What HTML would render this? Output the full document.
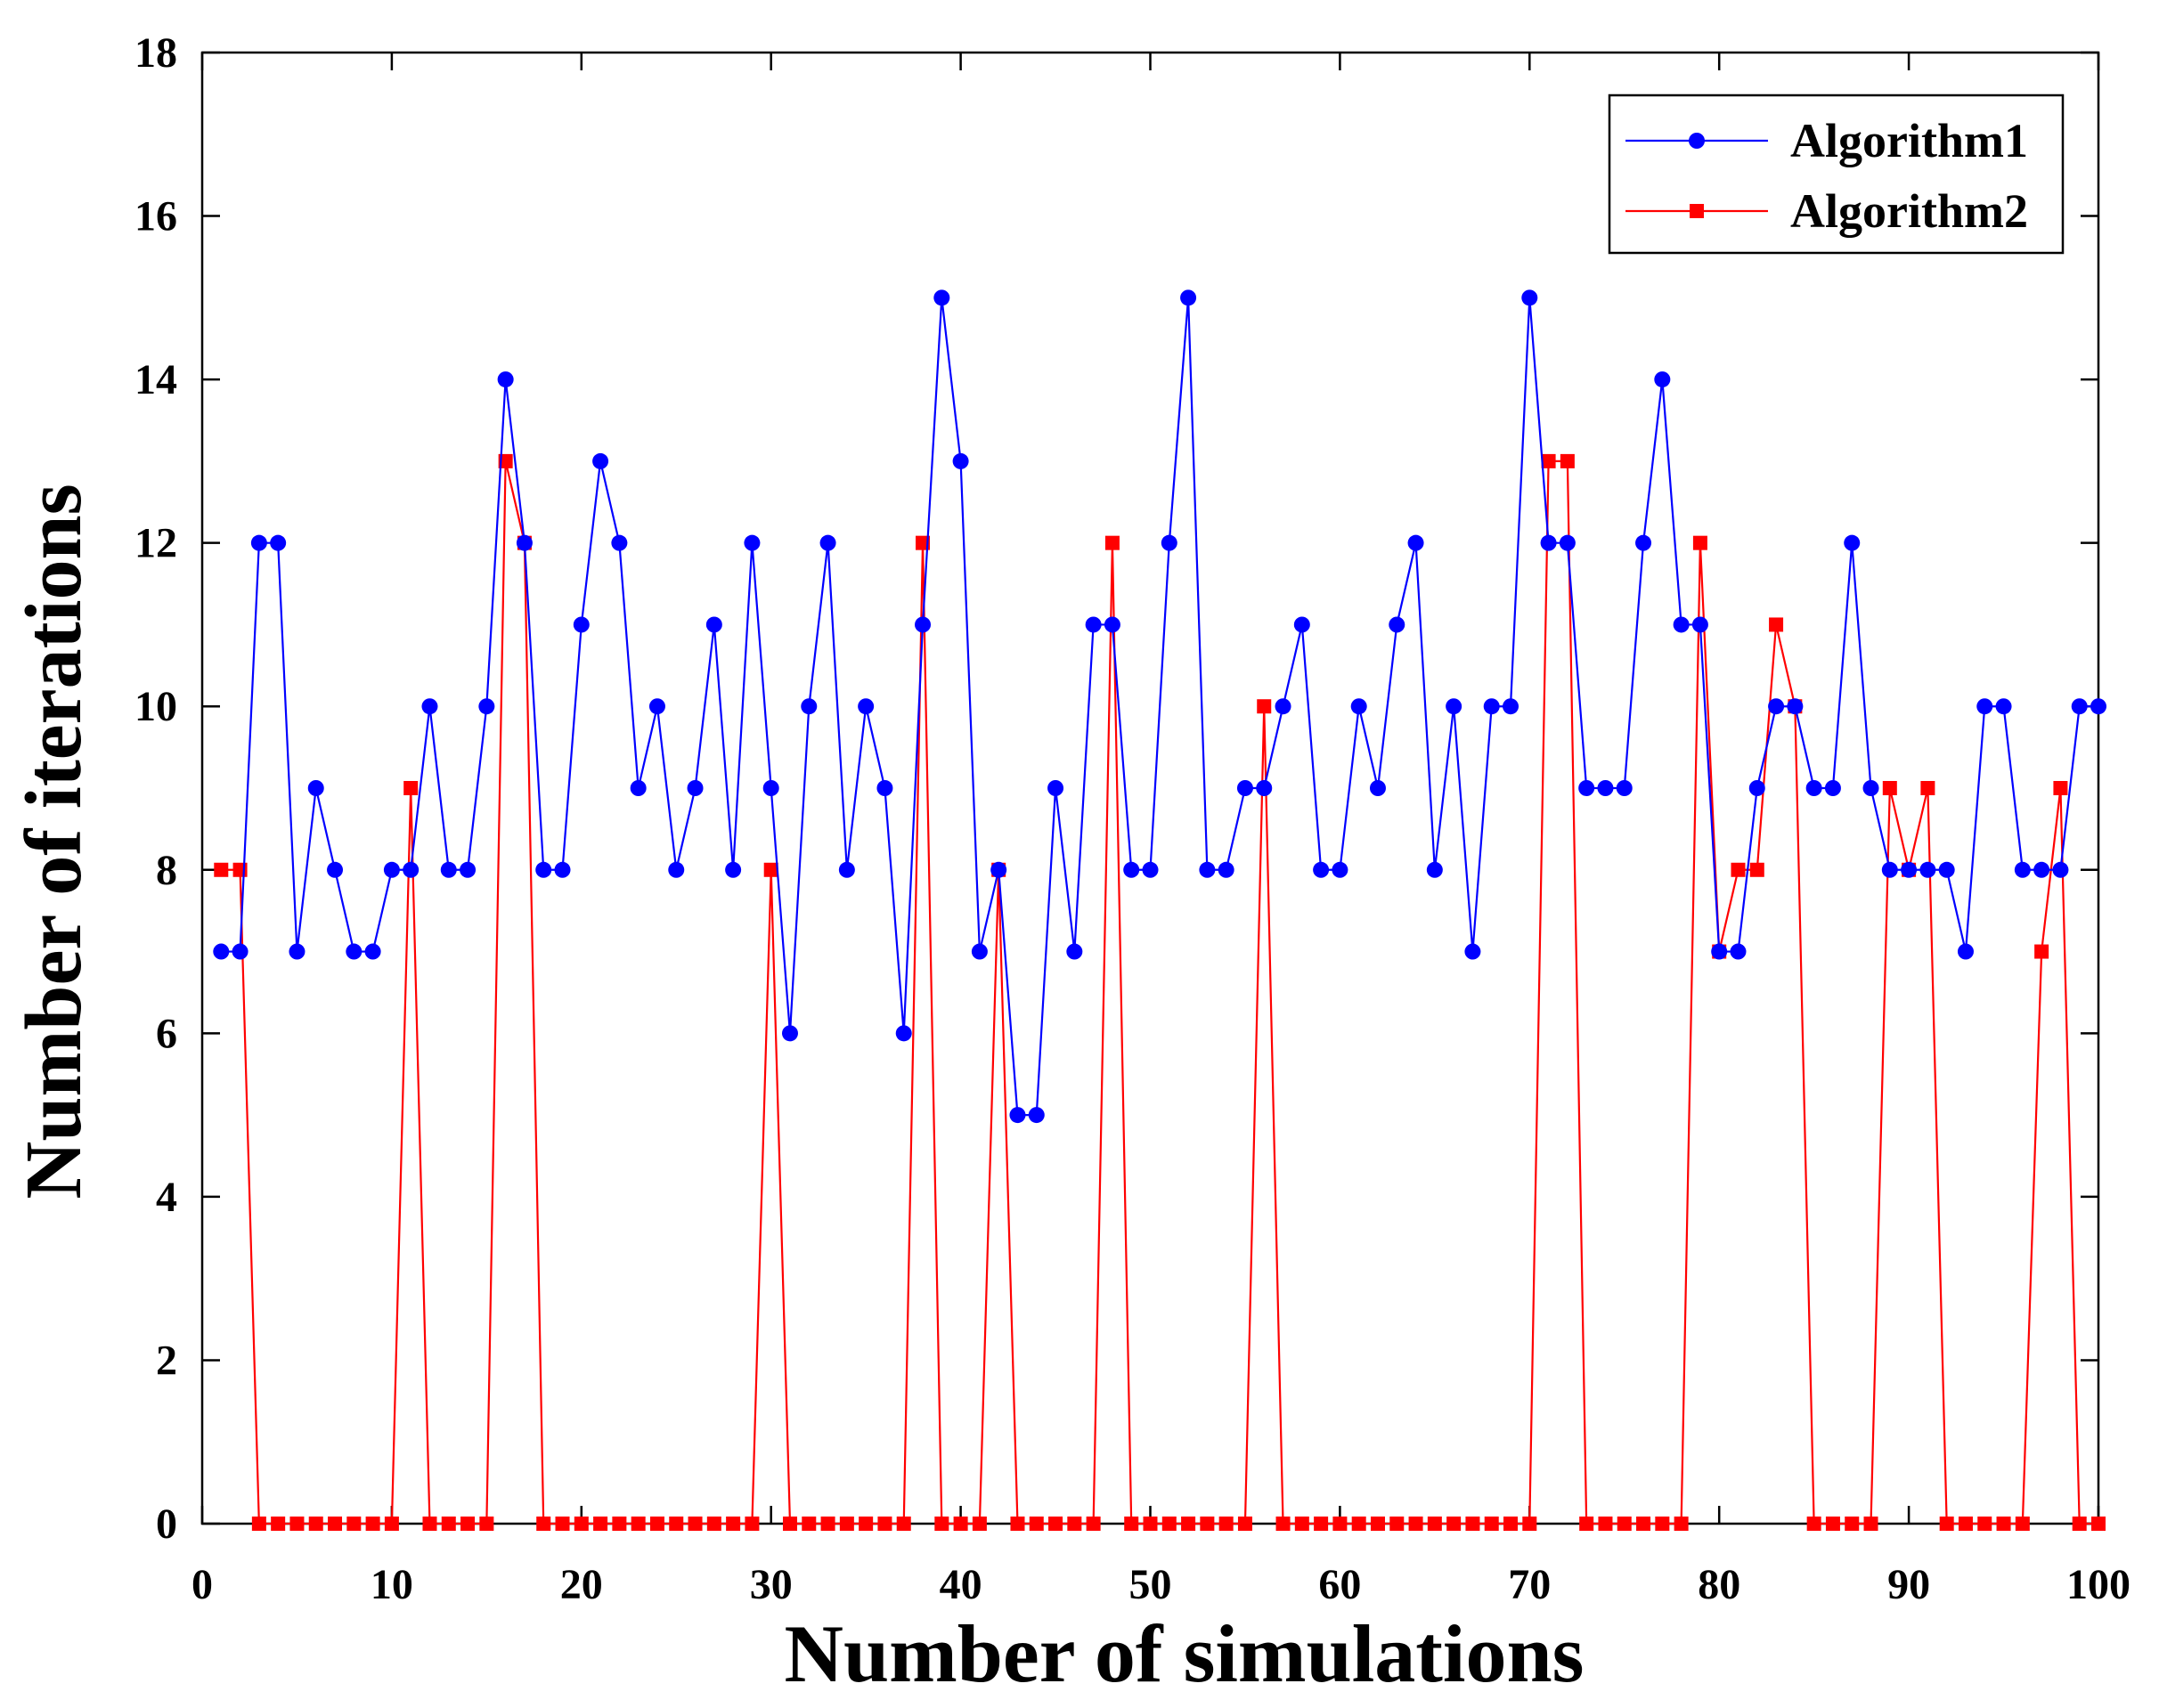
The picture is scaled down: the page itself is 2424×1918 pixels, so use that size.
<!DOCTYPE html>
<html><head><meta charset="utf-8"><style>
html,body{margin:0;padding:0;background:#fff;}
svg{display:block;}
</style></head><body>
<svg id="chart" width="2424" height="1918" xmlns="http://www.w3.org/2000/svg" font-family="'Liberation Serif', serif"></svg>
<script>
const xTicks=[0,10,20,30,40,50,60,70,80,90,100];
const yTicks=[0,2,4,6,8,10,12,14,16,18];
const alg1=[7,7,12,12,7,9,8,7,7,8,8,10,8,8,10,14,12,8,8,11,13,12,9,10,8,9,11,8,12,9,6,10,12,8,10,9,6,11,15,13,7,8,5,5,9,7,11,11,8,8,12,15,8,8,9,9,10,11,8,8,10,9,11,12,8,10,7,10,10,15,12,12,9,9,9,12,14,11,11,7,7,9,10,10,9,9,12,9,8,8,8,8,7,10,10,8,8,8,10,10];
const alg2=[8,8,0,0,0,0,0,0,0,0,9,0,0,0,0,13,12,0,0,0,0,0,0,0,0,0,0,0,0,8,0,0,0,0,0,0,0,12,0,0,0,8,0,0,0,0,0,12,0,0,0,0,0,0,0,10,0,0,0,0,0,0,0,0,0,0,0,0,0,0,13,13,0,0,0,0,0,0,12,7,8,8,11,10,0,0,0,0,9,8,9,0,0,0,0,0,7,9,0,0];
const L=227,R=2356,T=59,B=1711;
const sx=v=>L+(v-0)/100*(R-L);
const sy=v=>B-v/18*(B-T);
const svg=document.getElementById('chart');
const NS='http://www.w3.org/2000/svg';
function mk(tag,attrs,parent){const e=document.createElementNS(NS,tag);for(const k in attrs)e.setAttribute(k,attrs[k]);(parent||svg).appendChild(e);return e;}
let e;
e=mk('rect',{x:L,y:T,width:R-L,height:B-T,fill:'#fff',stroke:'#000','stroke-width':2.5});


xTicks.forEach(t=>{
  const x=sx(t);
  mk('line',{x1:x,y1:B,x2:x,y2:B-20,stroke:'#000','stroke-width':2.5});
  mk('line',{x1:x,y1:T,x2:x,y2:T+20,stroke:'#000','stroke-width':2.5});
  e=mk('text',{x:x,y:B+84,'text-anchor':'middle','font-size':48,'font-weight':'bold'});
  e.textContent=t;
  
  
});
yTicks.forEach(t=>{
  const y=sy(t);
  mk('line',{x1:L,y1:y,x2:L+20,y2:y,stroke:'#000','stroke-width':2.5});
  mk('line',{x1:R,y1:y,x2:R-20,y2:y,stroke:'#000','stroke-width':2.5});
  e=mk('text',{x:L-28,y:y+16,'text-anchor':'end','font-size':48,'font-weight':'bold'});
  e.textContent=t;
  
  
});
function series(data,color,shape,name){
  const pts=data.map((v,i)=>sx(i+1)+','+sy(v)).join(' ');
  e=mk('polyline',{points:pts,fill:'none',stroke:color,'stroke-width':2.2});
  
  
  data.forEach((v,i)=>{
    if(shape==='c') e=mk('circle',{cx:sx(i+1),cy:sy(v),r:9,fill:color});
    else e=mk('rect',{x:sx(i+1)-8,y:sy(v)-8,width:16,height:16,fill:color});
    
    
  });
}
series(alg2,'#ff0000','s','algorithm2');
series(alg1,'#0000ff','c','algorithm1');
// legend
e=mk('rect',{x:1807,y:107,width:509,height:177,fill:'#fff',stroke:'#000','stroke-width':2.5});


mk('line',{x1:1825,y1:158,x2:1985,y2:158,stroke:'#0000ff','stroke-width':2.2});
mk('circle',{cx:1905,cy:158,r:9,fill:'#0000ff'});
e=mk('text',{x:2010,y:176,'font-size':54,'font-weight':'bold'});e.textContent='Algorithm1';


mk('line',{x1:1825,y1:237,x2:1985,y2:237,stroke:'#ff0000','stroke-width':2.2});
mk('rect',{x:1897,y:229,width:16,height:16,fill:'#ff0000'});
e=mk('text',{x:2010,y:255,'font-size':54,'font-weight':'bold'});e.textContent='Algorithm2';


// axis titles
e=mk('text',{x:(L+R)/2+38,y:1888,'text-anchor':'middle','font-size':92,'font-weight':'bold'});
e.textContent='Number of simulations';


e=mk('text',{x:0,y:0,'text-anchor':'middle','font-size':90,'font-weight':'bold',transform:'translate(90,'+((T+B)/2+60)+') rotate(-90)'});
e.textContent='Number of iterations';


</script>
</body></html>
